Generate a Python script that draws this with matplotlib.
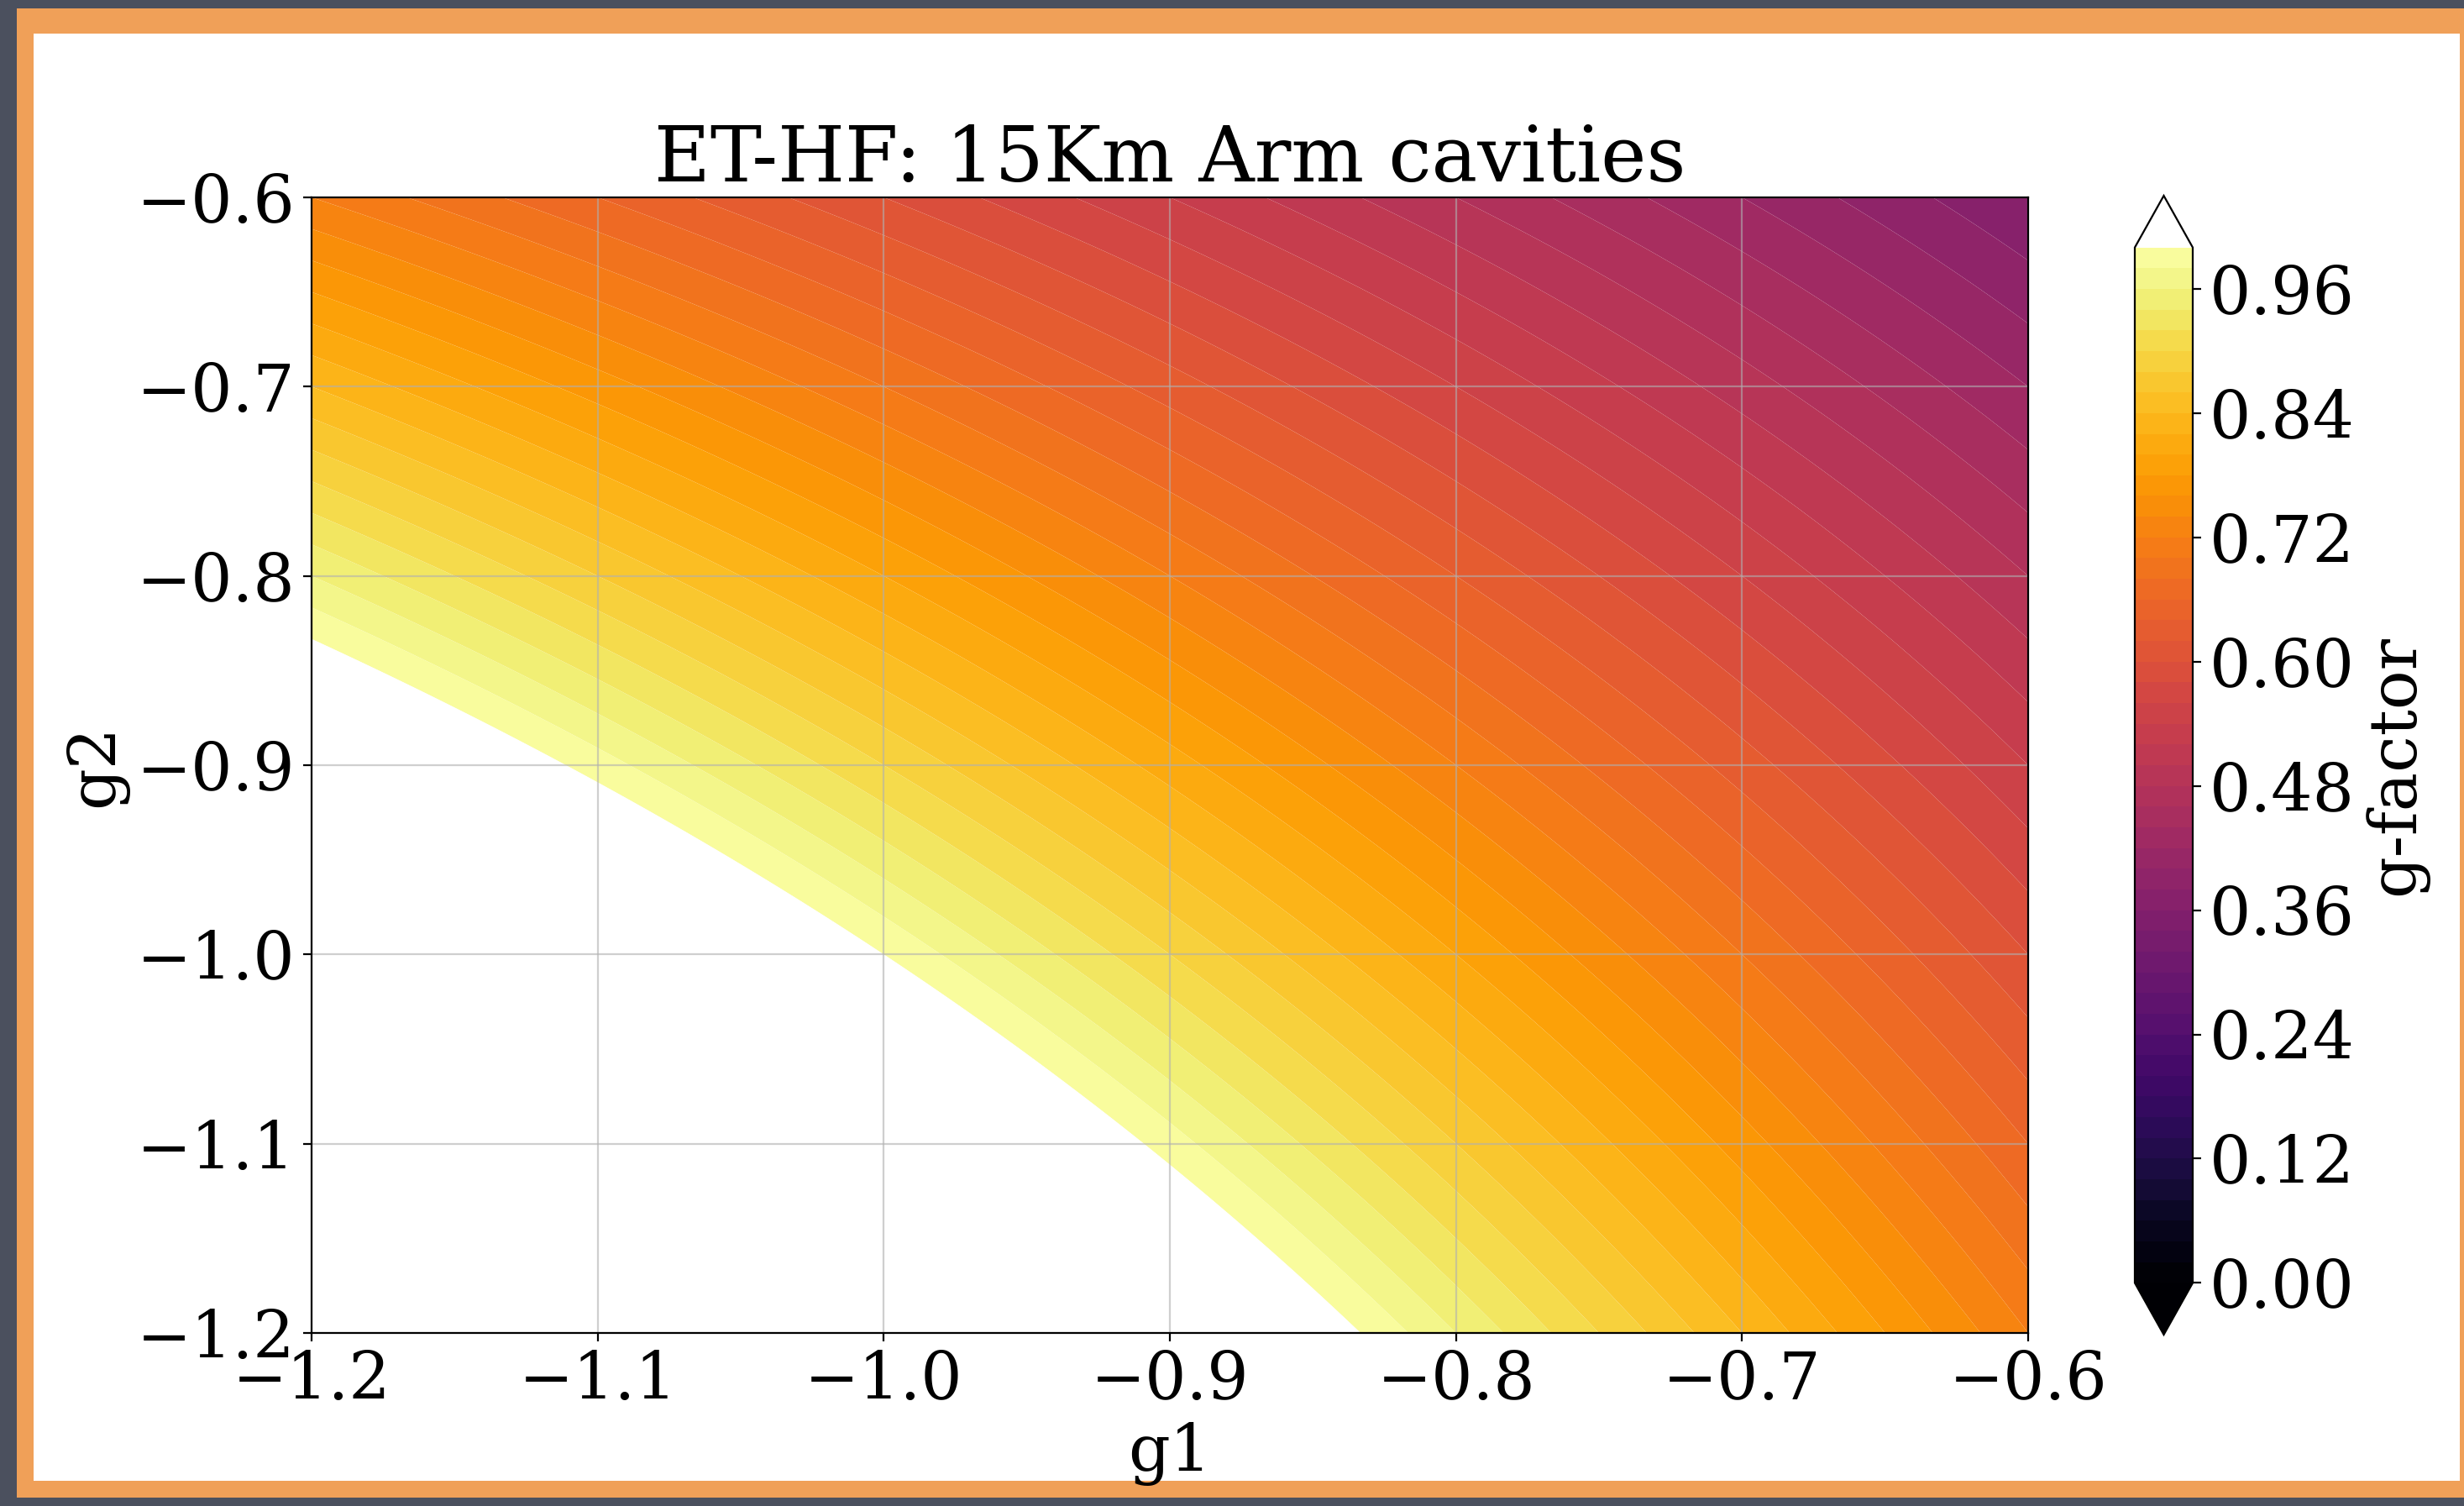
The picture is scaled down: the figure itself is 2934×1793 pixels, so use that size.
import numpy as np
import matplotlib
matplotlib.use("Agg")
import matplotlib.pyplot as plt
from matplotlib.patches import Rectangle

plt.rcParams['font.family'] = ['DejaVu Serif']
plt.rcParams['mathtext.fontset'] = 'dejavuserif'

# Mirror g-parameters of the two cavity mirrors
g1_range = [-1.2, -0.6]
g2_range = [-1.2, -0.6]
tick_values = [-1.2, -1.1, -1.0, -0.9, -0.8, -0.7, -0.6]
cbar_ticks = [0.0, 0.12, 0.24, 0.36, 0.48, 0.60, 0.72, 0.84, 0.96]
level_min, level_max, level_step = 0.0, 1.0, 0.02

g1 = np.linspace(g1_range[0], g1_range[1], 600)
g2 = np.linspace(g2_range[0], g2_range[1], 600)
G1, G2 = np.meshgrid(g1, g2)
gfactor = G1 * G2   # cavity stability product g1*g2

levels = np.arange(level_min, level_max + level_step / 2, level_step)

W, H, DPI = 2934, 1793, 200
fig = plt.figure(figsize=(W / DPI, H / DPI), dpi=DPI)

# framed background
fig.patch.set_facecolor('#4b505e')
fig.patches.append(Rectangle((20 / W, 1 - 1783 / H), (W - 20) / W, (1783 - 10) / H,
                             transform=fig.transFigure, facecolor='#f0a058',
                             edgecolor='none', zorder=-2))
fig.patches.append(Rectangle((40 / W, 1 - 1763 / H), (2929 - 40) / W, (1763 - 40) / H,
                             transform=fig.transFigure, facecolor='white',
                             edgecolor='none', zorder=-1))

ax = fig.add_axes([371 / W, 1 - 1587 / H, (2415 - 371) / W, (1587 - 235) / H])
cax = fig.add_axes([2542 / W, 1 - 1589 / H, (2611 - 2542) / W, (1589 - 233) / H])

cmap = plt.get_cmap('inferno').copy()
cmap.set_over('white')

cf = ax.contourf(G1, G2, gfactor, levels=levels, cmap=cmap, extend='both',
                 antialiased=True)
ax.set_xlim(g1_range)
ax.set_ylim(g2_range)
ax.set_xticks(tick_values)
ax.set_yticks(tick_values)
ax.grid(True, alpha=0.6)
ax.tick_params(labelsize=28)
ax.set_xlabel('g1', fontsize=28)
ax.set_ylabel('g2', fontsize=28)
ax.set_title('ET-HF: 15Km Arm cavities', fontsize=33)

cb = fig.colorbar(cf, cax=cax)
cb.set_ticks(cbar_ticks)
cb.ax.tick_params(labelsize=28)
cb.set_label('g-factor', fontsize=28)

fig.savefig('out.png', dpi=DPI, facecolor=fig.get_facecolor())
